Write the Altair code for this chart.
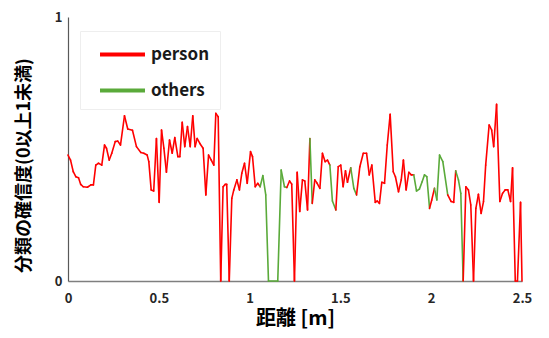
import altair as alt
import pandas as pd

# distance [m] of each sample
dist = [0.000, 0.014, 0.029, 0.043, 0.058, 0.070, 0.084, 0.107, 0.126, 0.140,
        0.153, 0.168, 0.186, 0.201, 0.212, 0.227, 0.241, 0.260, 0.274, 0.289,
        0.311, 0.329, 0.355, 0.377, 0.401, 0.417, 0.436, 0.445, 0.458, 0.472,
        0.487, 0.502, 0.515, 0.528, 0.542, 0.559, 0.574, 0.588, 0.605, 0.616,
        0.629, 0.643, 0.658, 0.673, 0.687, 0.700, 0.711, 0.726, 0.744, 0.759,
        0.774, 0.789, 0.803, 0.814, 0.827, 0.841, 0.854, 0.866, 0.874, 0.888,
        0.902, 0.913, 0.930, 0.944, 0.957, 0.972, 0.987, 1.005, 1.016, 1.031,
        1.045, 1.058, 1.073, 1.089, 1.104, 1.155, 1.174, 1.192, 1.205, 1.220,
        1.232, 1.247, 1.262, 1.276, 1.291, 1.304, 1.319, 1.332, 1.345, 1.359,
        1.372, 1.387, 1.401, 1.416, 1.429, 1.442, 1.456, 1.475, 1.488, 1.502,
        1.515, 1.528, 1.539, 1.557, 1.574, 1.589, 1.607, 1.626, 1.644, 1.659,
        1.673, 1.692, 1.703, 1.715, 1.728, 1.743, 1.758, 1.774, 1.791, 1.803,
        1.820, 1.835, 1.847, 1.862, 1.877, 1.890, 1.904, 1.919, 1.935, 1.950,
        1.963, 1.976, 1.991, 2.003, 2.018, 2.031, 2.046, 2.064, 2.091, 2.110,
        2.124, 2.135, 2.150, 2.163, 2.176, 2.191, 2.205, 2.218, 2.233, 2.246,
        2.260, 2.275, 2.288, 2.300, 2.319, 2.333, 2.344, 2.360, 2.378, 2.393,
        2.407, 2.422, 2.437, 2.448, 2.463, 2.475, 2.492, 2.500]

# classification confidence of each sample
conf = [0.477, 0.458, 0.414, 0.395, 0.391, 0.366, 0.357, 0.355, 0.364, 0.364,
        0.439, 0.446, 0.439, 0.515, 0.503, 0.458, 0.484, 0.528, 0.530, 0.515,
        0.626, 0.576, 0.571, 0.509, 0.487, 0.484, 0.477, 0.452, 0.345, 0.341,
        0.540, 0.298, 0.572, 0.503, 0.412, 0.534, 0.484, 0.543, 0.471, 0.471,
        0.601, 0.509, 0.585, 0.509, 0.626, 0.509, 0.540, 0.521, 0.503, 0.326,
        0.477, 0.458, 0.439, 0.635, 0.622, 0.000, 0.357, 0.366, 0.366, 0.000,
        0.313, 0.345, 0.383, 0.345, 0.408, 0.446, 0.370, 0.490, 0.471, 0.357,
        0.370, 0.357, 0.399, 0.326, 0.000, 0.000, 0.420, 0.357, 0.354, 0.379,
        0.367, 0.000, 0.412, 0.263, 0.383, 0.379, 0.269, 0.540, 0.294, 0.383,
        0.370, 0.351, 0.484, 0.452, 0.458, 0.439, 0.303, 0.269, 0.433, 0.439,
        0.357, 0.417, 0.374, 0.429, 0.351, 0.326, 0.433, 0.484, 0.484, 0.402,
        0.439, 0.298, 0.303, 0.294, 0.374, 0.370, 0.515, 0.631, 0.414, 0.395,
        0.338, 0.383, 0.458, 0.345, 0.412, 0.402, 0.402, 0.341, 0.348, 0.376,
        0.402, 0.395, 0.275, 0.307, 0.351, 0.307, 0.477, 0.452, 0.326, 0.301,
        0.298, 0.417, 0.383, 0.332, 0.000, 0.357, 0.345, 0.288, 0.000, 0.275,
        0.328, 0.256, 0.301, 0.439, 0.591, 0.572, 0.509, 0.669, 0.301, 0.332,
        0.345, 0.345, 0.301, 0.429, 0.000, 0.000, 0.298, 0.000]

# samples classified as "others" (segment ending at that sample is green)
others_at = [1.073, 1.089, 1.104, 1.155, 1.174, 1.192, 1.205, 1.345, 1.456,
             1.475, 1.574, 1.589, 1.919, 1.935, 1.950, 1.963, 1.976, 1.991,
             2.031, 2.046, 2.064, 2.091, 2.150, 2.163, 2.176]

classes = ["person", "others"]
colors = ["#FF0000", "#5AAA3A"]

cls = ["others" if d in others_at else "person" for d in dist]
rows = []
for i in range(len(dist) - 1):
    rows.append({"x": dist[i], "y": conf[i], "x2": dist[i + 1],
                 "y2": conf[i + 1], "cls": cls[i + 1]})
df = pd.DataFrame(rows)

FONT = "Noto Sans CJK JP"

chart = alt.Chart(df).mark_rule(strokeWidth=1.6, strokeCap="round").encode(
    x=alt.X("x:Q", scale=alt.Scale(domain=[0, 2.5], nice=False),
            axis=alt.Axis(values=[0, 0.5, 1, 1.5, 2, 2.5], format="~g",
                          title="距離 [m]",
                          grid=False, ticks=False, labelFontSize=13,
                          labelFontWeight="bold", labelColor="#262626",
                          labelPadding=11, titleFontSize=20,
                          titleFontWeight="bold", titleColor="#000000",
                          titlePadding=3, domainColor="#7f7f7f",
                          domainWidth=1.5, labelFlush=False)),
    x2="x2:Q",
    y=alt.Y("y:Q", scale=alt.Scale(domain=[0, 1], nice=False),
            axis=alt.Axis(values=[0, 1], format="~g",
                          title="分類の確信度(0以上1未満)",
                          grid=False, ticks=False, labelFontSize=13,
                          labelFontWeight="bold", labelColor="#262626",
                          labelPadding=6, titleFontSize=18,
                          titleFontWeight="bold", titleColor="#000000",
                          titlePadding=21, titleY=148, domainColor="#595959",
                          domainWidth=1.2, labelFlush=False)),
    y2="y2:Q",
    color=alt.Color("cls:N", scale=alt.Scale(domain=classes, range=colors),
                    legend=alt.Legend(title=None, orient="none", legendX=12,
                                      legendY=14, symbolType="M-2,0H2",
                                      symbolSize=506, symbolStrokeWidth=4,
                                      symbolOffset=19,
                                      labelFontSize=17, labelFontWeight="bold",
                                      labelColor="#1a1a1a", labelOffset=15,
                                      rowPadding=14, padding=10,
                                      fillColor="#ffffff",
                                      strokeColor="#eeeeee")),
).properties(
    width=454, height=264,
    autosize=alt.AutoSizeParams(type="none"),
    padding={"left": 60, "top": 9, "right": 10, "bottom": 49},
).configure(font=FONT).configure_view(stroke=None)

chart.save("out.html", embed_options={"renderer": "svg", "actions": False})
